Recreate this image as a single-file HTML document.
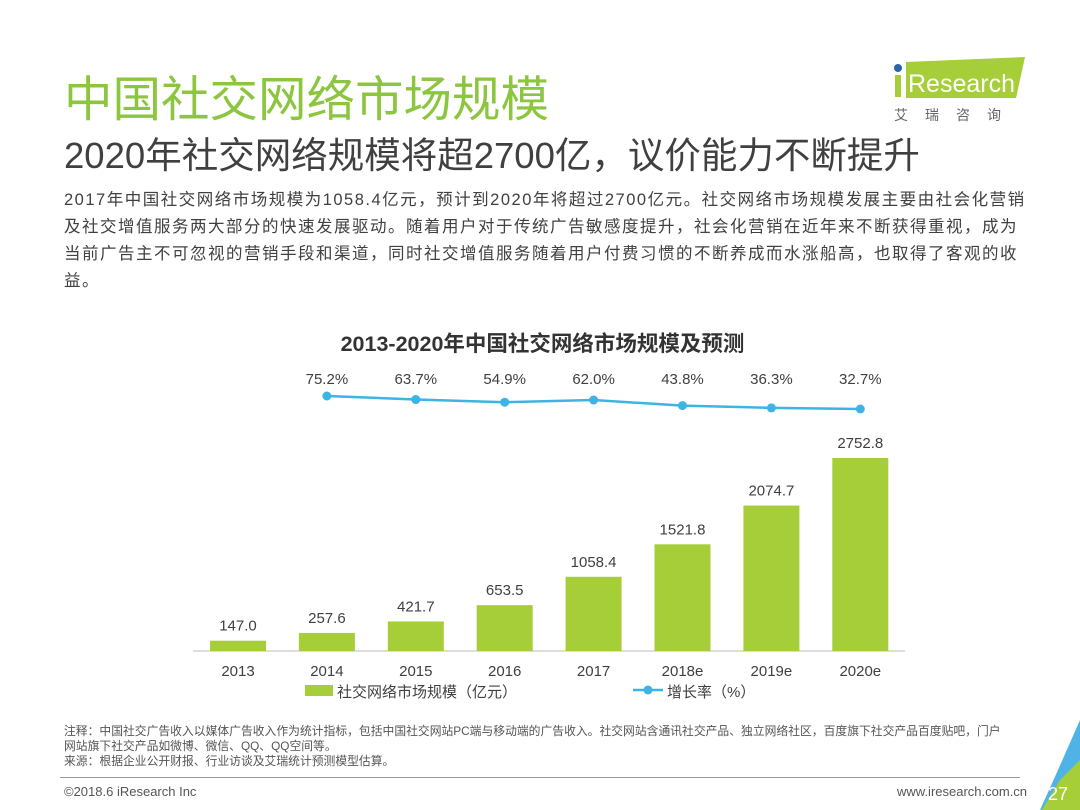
<!DOCTYPE html>
<html><head><meta charset="utf-8"><style>
body{margin:0;width:1080px;height:810px;background:#fff;overflow:hidden;position:relative;font-family:"Liberation Sans","Noto Sans CJK SC",sans-serif;color:#404040}
.abs{position:absolute;white-space:nowrap}
</style></head><body>
<div class="abs" style="left:64px;top:60px;font-size:48.5px;color:#8cc63f">中国社交网络市场规模</div>
<div class="abs" style="left:64px;top:126px;font-size:36.5px;color:#404040">2020年社交网络规模将超2700亿，议价能力不断提升</div>
<div class="abs" style="left:64px;top:187px;font-size:16.5px;letter-spacing:1.5px;line-height:27px;color:#404040">2017年中国社交网络市场规模为1058.4亿元，预计到2020年将超过2700亿元。社交网络市场规模发展主要由社会化营销<br>及社交增值服务两大部分的快速发展驱动。随着用户对于传统广告敏感度提升，社会化营销在近年来不断获得重视，成为<br>当前广告主不可忽视的营销手段和渠道，同时社交增值服务随着用户付费习惯的不断养成而水涨船高，也取得了客观的收<br>益。</div>
<div>
<svg class="abs" style="left:880px;top:50px" width="160" height="80">
<polygon points="26,12 145,7 136,48 26,48" fill="#a6ce39"/>
<circle cx="18" cy="18" r="4" fill="#2b64a8"/>
<rect x="15" y="25" width="6" height="22" fill="#a6ce39"/>
<text x="28" y="42" font-size="25" fill="#fff" font-family="Liberation Sans">Research</text>
<text x="14" y="70" font-size="14" fill="#666" letter-spacing="17">艾瑞咨询</text>
</svg></div>
<div class="abs" style="left:0;width:1085px;text-align:center;top:327px;font-size:21.5px;font-weight:bold;color:#333">2013-2020年中国社交网络市场规模及预测</div>
<svg id="chart" class="abs" style="left:0;top:0" width="1080" height="810"></svg>
<div class="abs" style="left:64px;top:724px;font-size:11.8px;line-height:15px;color:#555">注释：中国社交广告收入以媒体广告收入作为统计指标，包括中国社交网站PC端与移动端的广告收入。社交网站含通讯社交产品、独立网络社区，百度旗下社交产品百度贴吧，门户<br>网站旗下社交产品如微博、微信、QQ、QQ空间等。<br>来源：根据企业公开财报、行业访谈及艾瑞统计预测模型估算。</div>
<div class="abs" style="left:60px;top:777px;width:960px;height:1px;background:#999"></div>
<div class="abs" style="left:64px;top:784px;font-size:13px;color:#555">©2018.6 iResearch Inc</div>
<div class="abs" style="left:897px;top:784px;font-size:13px;color:#555">www.iresearch.com.cn</div>
<svg class="abs" style="left:1020px;top:700px" width="60" height="110">
<polygon points="60,20 60,110 20,110 38,70" fill="#4fb3e8"/>
<polygon points="60,60 60,110 22,110 40,80" fill="#a6ce39"/>
<text x="28" y="100" font-size="18" fill="#fff">27</text>
</svg>
<script>
const years=["2013","2014","2015","2016","2017","2018e","2019e","2020e"];
const sizes=[147.0,257.6,421.7,653.5,1058.4,1521.8,2074.7,2752.8];
const growth=[75.2,63.7,54.9,62.0,43.8,36.3,32.7];
const svg=document.getElementById('chart');const NS='http://www.w3.org/2000/svg';
const x0=238,dx=88.9,base=651,ys=193/2752.8;
const xs=i=>x0+i*dx, yb=v=>base-v*ys, yl=v=>396+(75.2-v)*0.306;
function mk(t,a,txt){const e=document.createElementNS(NS,t);for(const k in a)e.setAttribute(k,a[k]);if(txt!=null)e.textContent=txt;svg.appendChild(e);return e;}
let ax=mk('line',{x1:193,x2:905,y1:base,y2:base,stroke:'#bbb'});


years.forEach((y,i)=>{
 const r=mk('rect',{x:xs(i)-28,y:yb(sizes[i]),width:56,height:sizes[i]*ys,fill:'#a6ce39'});
 
 
 const l=mk('text',{x:xs(i),y:yb(sizes[i])-10,'text-anchor':'middle','font-size':15,fill:'#404040'},sizes[i].toFixed(1));
 
 
 const t=mk('text',{x:xs(i),y:676,'text-anchor':'middle','font-size':15,fill:'#404040'},y);
 
 
});
const pts=growth.map((g,i)=>xs(i+1)+','+yl(g)).join(' ');
const pl=mk('polyline',{points:pts,fill:'none',stroke:'#3cb4e5','stroke-width':2.5});


growth.forEach((g,i)=>{
 const c=mk('circle',{cx:xs(i+1),cy:yl(g),r:4.5,fill:'#3cb4e5'});
 
 
 const t=mk('text',{x:xs(i+1),y:384,'text-anchor':'middle','font-size':15,fill:'#404040'},g.toFixed(1)+'%');
 
 
});
const lg1=mk('rect',{x:305,y:685,width:28,height:11,fill:'#a6ce39'});


const lt1=mk('text',{x:337,y:697,'font-size':15,fill:'#404040'},'社交网络市场规模（亿元）');


const lg2=mk('line',{x1:633,x2:663,y1:690,y2:690,stroke:'#3cb4e5','stroke-width':2.5});


const lg3=mk('circle',{cx:648,cy:690,r:4.5,fill:'#3cb4e5'});


const lt2=mk('text',{x:667,y:697,'font-size':15,fill:'#404040'},'增长率（%）');


</script>
</body></html>
